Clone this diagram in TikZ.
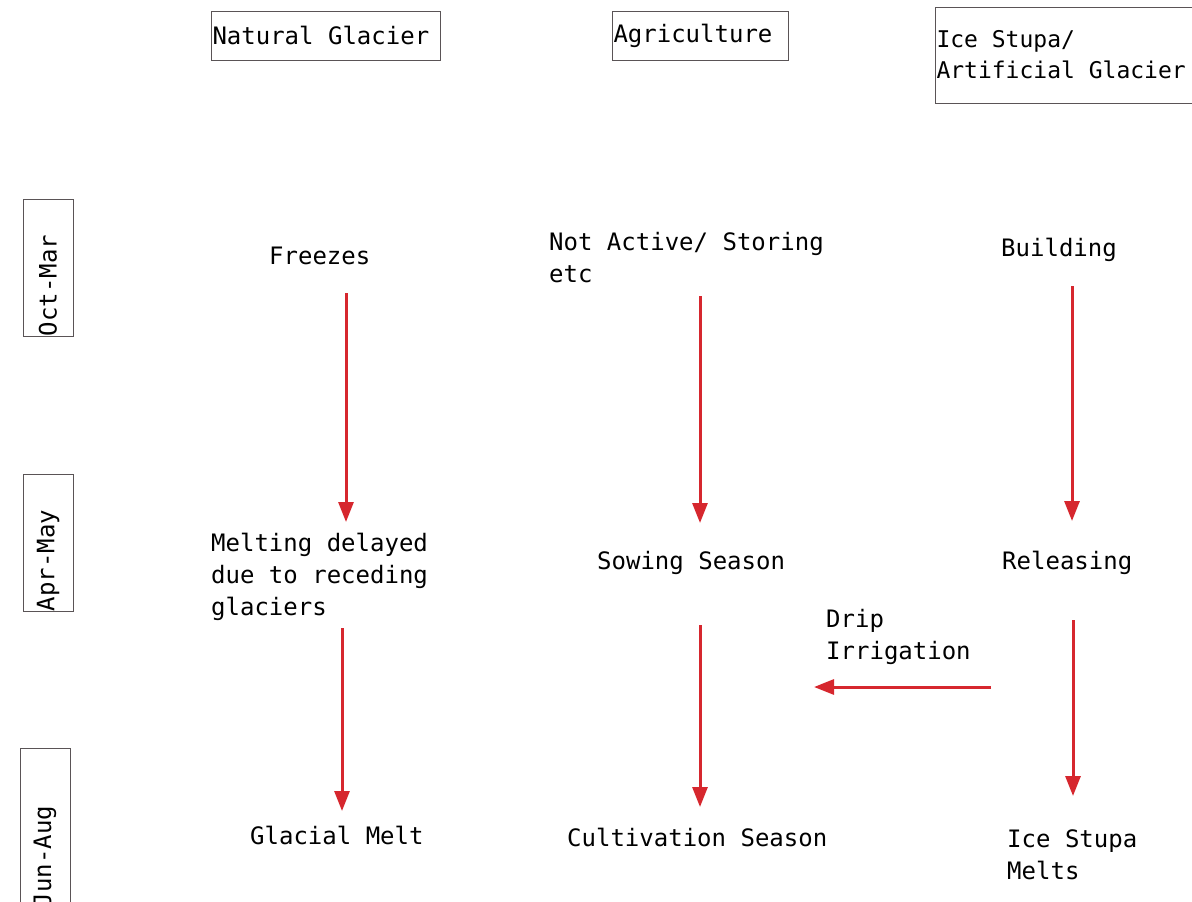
\documentclass[tikz,border=0pt]{standalone}
\usepackage{fontspec}
\setmainfont{DejaVu Sans Mono}[WordSpace={1,0,0}]
\usetikzlibrary{arrows.meta}
\definecolor{arrowred}{RGB}{214,39,46}
\definecolor{boxgray}{RGB}{90,84,86}
\tikzset{
  hbox/.style={draw=boxgray, line width=1pt, inner sep=1.5pt, align=left, font=\fontsize{24}{32}\selectfont},
  vbox/.style={draw=boxgray, line width=1pt, inner sep=0pt, align=left, rotate=90, font=\fontsize{24}{32}\selectfont},
  lbl/.style={anchor=base west, inner sep=0pt, align=left, font=\fontsize{24}{32}\selectfont},
  flow/.style={draw=arrowred, line width=3pt, -{Triangle[length=20pt,width=15pt]}}
}
\newcommand{\mysp}{\spaceskip=0pt\relax}
\begin{document}
\begin{tikzpicture}[x=1pt,y=-1pt]
\useasboundingbox (0,0) rectangle (1192,902);
% header boxes
\node[hbox, minimum width=229pt, minimum height=49pt, text width=226pt] (ng) at (325.5,35.5) {\mysp Natural Glacier};
\node[hbox, minimum width=176pt, minimum height=49pt, text width=173pt] (ag) at (700,35.5) {\mysp Agriculture};
\node[hbox, minimum width=260pt, minimum height=96pt, text width=257pt, font=\fontsize{23}{31}\selectfont] (is) at (1065,55) {\mysp Ice Stupa/\\Artificial Glacier};
% season boxes
\node[vbox, minimum width=137pt, minimum height=50pt, text width=137pt] (om) at (48,267.5) {Oct-Mar};
\node[vbox, minimum width=137pt, minimum height=50pt, text width=137pt] (am) at (48,542.5) {Apr-May};
\node[vbox, minimum width=160pt, minimum height=50pt, text width=158pt] (ja) at (45,828) {Jun-Aug};
% labels
\node[lbl] (fr) at (269,264) {Freezes};
\node[lbl] (na) at (549,282) {Not Active/ Storing\\etc};
\node[lbl] (bu) at (1001,256) {Building};
\node[lbl] (md) at (211,615) {Melting delayed\\due to receding\\glaciers};
\node[lbl] (ss) at (597,569) {Sowing Season};
\node[lbl] (re) at (1002,569) {Releasing};
\node[lbl] (di) at (826,659) {Drip\\Irrigation};
\node[lbl] (gm) at (250,844) {Glacial Melt};
\node[lbl] (cs) at (567,846) {Cultivation Season};
\node[lbl] (im) at (1007,879) {Ice Stupa\\Melts};
% arrow end points
\coordinate (a1s) at (346,293); \coordinate (a1e) at (346,522);
\coordinate (a2s) at (700,296); \coordinate (a2e) at (700,523);
\coordinate (a3s) at (1072,286); \coordinate (a3e) at (1072,521);
\coordinate (a4s) at (342,628); \coordinate (a4e) at (342,811);
\coordinate (a5s) at (700,625); \coordinate (a5e) at (700,807);
\coordinate (a6s) at (1073,620); \coordinate (a6e) at (1073,796);
\coordinate (a7s) at (991,687); \coordinate (a7e) at (814,687);
\draw[flow] (a1s) -- (a1e);
\draw[flow] (a2s) -- (a2e);
\draw[flow] (a3s) -- (a3e);
\draw[flow] (a4s) -- (a4e);
\draw[flow] (a5s) -- (a5e);
\draw[flow] (a6s) -- (a6e);
\draw[flow] (a7s) -- (a7e);
\end{tikzpicture}
\end{document}
